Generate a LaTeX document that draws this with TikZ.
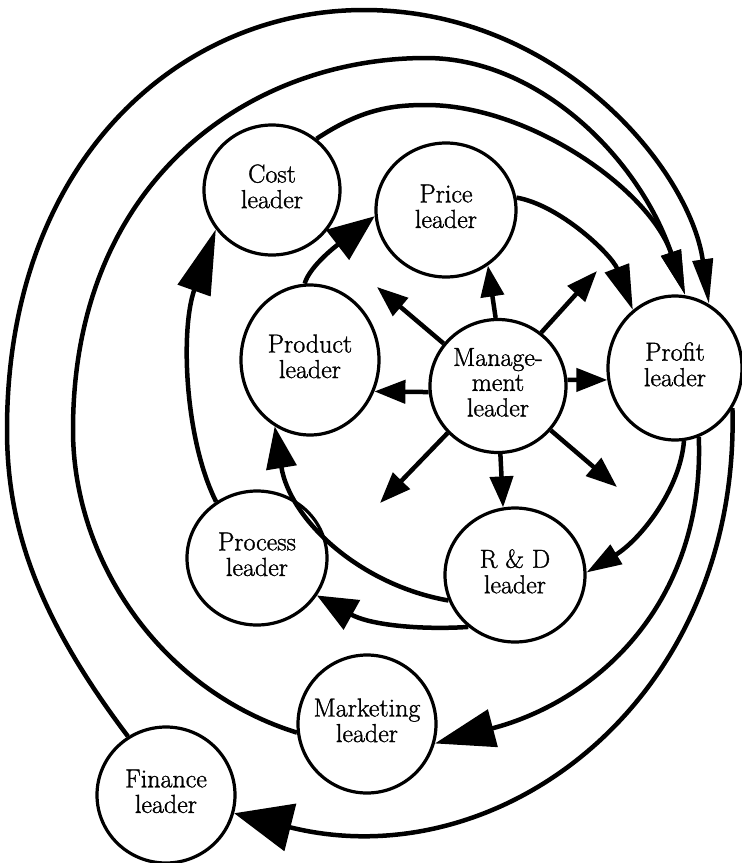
\documentclass[tikz,border=0pt]{standalone}
\usepackage{fontspec}
\newfontfamily\ldrfont{Latin Modern Roman}[FakeBold=1.2]
\usetikzlibrary{shapes.geometric,arrows.meta}
\newcommand{\ldrtext}[1]{\makebox[0pt]{\begin{tabular}{@{}c@{}}#1\end{tabular}}}
\begin{document}
\begin{tikzpicture}[x=1pt,y=-1pt,
  ldr/.style={draw, line width=3.2pt, ellipse, inner sep=0pt, font=\ldrfont\fontsize{26}{25}\selectfont},
  con/.style={line width=4.5pt},
  radial/.style={con, -{Triangle[length=31pt,width=23pt]}},
  hd/.style n args={2}{con, -{Triangle[length=#1pt,width=#2pt]}},
  ]
\useasboundingbox (0,0) rectangle (742,863);

% nodes
\node[ldr, minimum width=136pt, minimum height=130pt] (cost) at (272,190) {\ldrtext{Cost\\leader}};
\node[ldr, minimum width=140pt, minimum height=134pt] (price) at (446,210) {\ldrtext{Price\\leader}};
\node[ldr, minimum width=138pt, minimum height=150pt] (product) at (310,360) {\ldrtext{Product\\leader}};
\node[ldr, minimum width=136pt, minimum height=133pt] (mgmt) at (498,386) {\ldrtext{Manage-\\ment\\leader}};
\node[ldr, minimum width=134pt, minimum height=144pt] (profit) at (675,368) {\ldrtext{Profit\\leader}};
\node[ldr, minimum width=140pt, minimum height=134pt] (process) at (257,558) {\ldrtext{Process\\leader}};
\node[ldr, minimum width=140pt, minimum height=134pt] (rd) at (515,575) {\ldrtext{R \& D\\leader}};
\node[ldr, minimum width=138pt, minimum height=138pt] (marketing) at (367,724) {\ldrtext{Marketing\\leader}};
\node[ldr, minimum width=138pt, minimum height=136pt] (finance) at (166,795) {\ldrtext{Finance\\leader}};

% free ends of radial arrows
\coordinate (ur) at (597,271);
\coordinate (dr) at (617,487);
\coordinate (dl) at (380,503);
\coordinate (ul) at (377,287);

% radial arrows from management leader
\draw[radial] (mgmt.92) -- (price.-53);
\draw[radial] (mgmt.51) -- (ur);
\draw[radial] (mgmt.5) -- (profit.190);
\draw[radial] (mgmt.-40) -- (dr);
\draw[radial] (mgmt.-88) -- (rd.100);
\draw[radial] (mgmt.223) -- (dl);
\draw[radial] (mgmt.185) -- (product.-26);
\draw[radial] (mgmt.142) -- (ul);

% inner ring
\draw[hd={47}{37}] (product.94) .. controls (310,265) and (340,243) .. (price.185);
\draw[hd={45}{25}] (price.10) .. controls (560,205) and (612,255) .. (profit.126);
\draw[hd={35}{22}] (profit.-83) .. controls (680,490) and (640,540) .. (rd.2);
\draw[hd={42}{30}] (rd.201) .. controls (360,585) and (290,520) .. (product.242);
\draw[hd={40}{33}] (rd.228) .. controls (420,630) and (370,625) .. (process.-32);
\draw[hd={65}{34}] (process.126) .. controls (185,440) and (180,330) .. (cost.215);

% middle ring
\draw[hd={45}{20}] (cost.49) .. controls (360,110) and (390,105) .. (426,105)
   .. controls (530,105) and (650,190) .. (profit.82);
\draw[hd={60}{38}] (profit.-71) .. controls (705,600) and (600,700) .. (marketing.-16);

% outer rings
\draw[hd={45}{20}] (marketing.187) .. controls (160,690) and (73,560) .. (73,430)
   .. controls (73,180) and (250,58) .. (426,58)
   .. controls (540,58) and (640,160) .. (profit.82);
\draw[hd={58}{48}] (profit.-35) .. controls (740,700) and (500,880) .. (finance.-15);
\draw[hd={45}{20}] (finance.123) .. controls (40,620) and (7,530) .. (7,430)
   .. controls (7,160) and (180,10) .. (364,10)
   .. controls (560,10) and (690,170) .. (profit.62);
\end{tikzpicture}
\end{document}
